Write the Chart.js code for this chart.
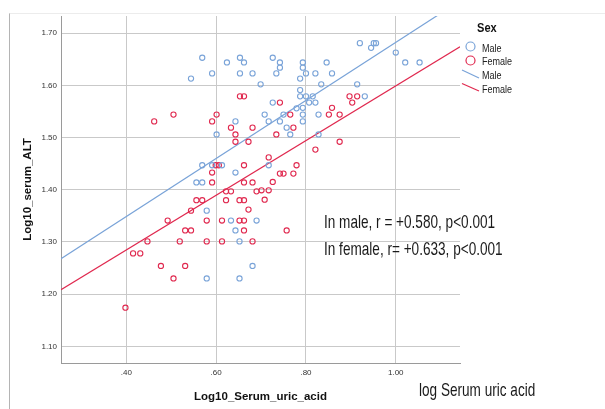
<!DOCTYPE html>
<html lang="en">
<head>
  <meta charset="UTF-8">
  <title>Log10 serum ALT vs Log10 serum uric acid</title>
  <script src="https://cdn.jsdelivr.net/npm/chart.js"></script>
  <style>
    body { margin: 0; background: #fff; }
    #wrap { position: relative; width: 605px; height: 409px; }
    #frame { position: absolute; left: 9px; top: 13px; width: 596px; height: 396px;
             border-left: 1px solid #b4b4b4; border-top: 1px solid #ececec; }
    canvas { position: absolute; left: 0; top: 0; }
    .note { position: absolute; font-family: "Liberation Sans", Arial, sans-serif;
            font-size: 19px; color: #1a1a1a; white-space: nowrap; line-height: 1;
            transform: scaleX(0.715); transform-origin: left center; }
  </style>
</head>
<body>
  <div id="wrap">
    <div id="frame"></div>
    <canvas id="chart" width="605" height="409"></canvas>
    <div class="note" style="left:324px; top:212px;">In male, r = +0.580, p&lt;0.001</div>
    <div class="note" style="left:324px; top:239px;">In female, r= +0.633, p&lt;0.001</div>
    <div class="note" style="left:419px; top:380px;">log Serum uric acid</div>
  </div>

  <script>
    // values
    const maleX = [0.569, 0.624, 0.653, 0.662, 0.544, 0.591, 0.653, 0.681, 0.699, 0.643,
                   0.601, 0.569, 0.591, 0.613, 0.643, 0.556, 0.569, 0.579, 0.633, 0.690,
                   0.643, 0.652, 0.681, 0.579, 0.652, 0.726, 0.742, 0.742, 0.734, 0.793,
                   0.793, 0.800, 0.787, 0.846, 0.821, 0.858, 0.834, 0.920, 0.945, 0.951,
                   0.956, 1.000, 1.021, 1.053, 0.914, 0.931, 0.787, 0.787, 0.800, 0.815,
                   0.807, 0.821, 0.793, 0.779, 0.726, 0.708, 0.750, 0.793, 0.828, 0.717,
                   0.742, 0.793, 0.757, 0.765, 0.828, 0.717];
    const maleY = [1.653, 1.644, 1.653, 1.644, 1.613, 1.623, 1.623, 1.623, 1.602, 1.531,
                   1.506, 1.447, 1.447, 1.447, 1.433, 1.414, 1.414, 1.360, 1.341, 1.341,
                   1.322, 1.301, 1.254, 1.230, 1.230, 1.653, 1.644, 1.634, 1.623, 1.644,
                   1.634, 1.623, 1.613, 1.644, 1.623, 1.623, 1.602, 1.681, 1.672, 1.681,
                   1.681, 1.663, 1.644, 1.644, 1.602, 1.579, 1.591, 1.579, 1.579, 1.579,
                   1.567, 1.567, 1.557, 1.556, 1.567, 1.544, 1.544, 1.544, 1.544, 1.531,
                   1.531, 1.531, 1.519, 1.506, 1.506, 1.447];

    const femaleX = [0.653, 0.662, 0.505, 0.462, 0.601, 0.591, 0.633, 0.681, 0.643, 0.643,
                     0.672, 0.599, 0.606, 0.662, 0.591, 0.591, 0.662, 0.681, 0.622, 0.633,
                     0.690, 0.556, 0.569, 0.622, 0.652, 0.662, 0.544, 0.672, 0.492, 0.579,
                     0.613, 0.652, 0.662, 0.531, 0.544, 0.662, 0.447, 0.519, 0.579, 0.613,
                     0.681, 0.415, 0.431, 0.477, 0.531, 0.505, 0.398, 0.742, 0.765, 0.772,
                     0.734, 0.897, 0.914, 0.903, 0.858, 0.851, 0.875, 0.875, 0.821, 0.717,
                     0.779, 0.742, 0.750, 0.772, 0.726, 0.701, 0.717, 0.708, 0.757];
    const femaleY = [1.579, 1.579, 1.544, 1.531, 1.544, 1.531, 1.519, 1.519, 1.506, 1.492,
                     1.492, 1.447, 1.447, 1.447, 1.433, 1.414, 1.414, 1.414, 1.397, 1.397,
                     1.397, 1.380, 1.380, 1.380, 1.380, 1.380, 1.360, 1.362, 1.341, 1.341,
                     1.341, 1.341, 1.341, 1.322, 1.322, 1.322, 1.301, 1.301, 1.301, 1.301,
                     1.301, 1.278, 1.278, 1.254, 1.254, 1.230, 1.174, 1.567, 1.544, 1.519,
                     1.506, 1.579, 1.579, 1.567, 1.557, 1.544, 1.544, 1.492, 1.477, 1.462,
                     1.447, 1.431, 1.431, 1.431, 1.415, 1.399, 1.399, 1.381, 1.322];

    // fit lines, ends at the axis limits
    const fitX = [0.2545, 1.143];
    const maleFitY = [1.268, 1.762];
    const femaleFitY = [1.2085, 1.674];

    const xTicks = [0.4, 0.6, 0.8, 1.0];
    const xTickLabels = ['.40', '.60', '.80', '1.00'];
    const yTicks = [1.1, 1.2, 1.3, 1.4, 1.5, 1.6, 1.7];

    const blue = '#79a3d8';
    const red = '#e0294f';
    const fontFam = '"Liberation Sans", Arial, sans-serif';

    const pts = (xs, ys) => xs.map((x, i) => ({ x: x, y: ys[i] }));

    // squeezed text, like the narrow SPSS font
    function narrowText(ctx, text, x, y) {
      ctx.save();
      ctx.translate(x, y);
      ctx.scale(0.82, 1);
      ctx.fillText(text, 0, 0);
      ctx.restore();
    }

    const legendPlugin = {
      id: 'sexLegend',
      afterDraw(chart) {
        const ctx = chart.ctx;
        ctx.save();
        ctx.textBaseline = 'middle';
        ctx.fillStyle = '#111';
        ctx.font = 'bold 13.5px ' + fontFam;
        narrowText(ctx, 'Sex', 477, 28);
        ctx.font = '11px ' + fontFam;
        ctx.fillStyle = '#222';
        ctx.lineWidth = 1.2;
        ctx.strokeStyle = blue;
        ctx.beginPath(); ctx.arc(470.5, 46.5, 4.5, 0, Math.PI * 2); ctx.stroke();
        narrowText(ctx, 'Male', 482, 48.5);
        ctx.strokeStyle = red;
        ctx.beginPath(); ctx.arc(470.5, 60.5, 4.5, 0, Math.PI * 2); ctx.stroke();
        narrowText(ctx, 'Female', 482, 62);
        ctx.strokeStyle = blue;
        ctx.beginPath(); ctx.moveTo(462, 70); ctx.lineTo(479, 78); ctx.stroke();
        narrowText(ctx, 'Male', 482, 75.5);
        ctx.strokeStyle = red;
        ctx.beginPath(); ctx.moveTo(462, 83.5); ctx.lineTo(479, 91); ctx.stroke();
        narrowText(ctx, 'Female', 482, 89.5);
        ctx.restore();
      }
    };

    Chart.defaults.font.family = fontFam;
    Chart.defaults.color = '#333';

    new Chart(document.getElementById('chart'), {
      type: 'scatter',
      data: {
        datasets: [
          {
            label: 'Male',
            data: pts(maleX, maleY),
            pointStyle: 'circle',
            pointRadius: 2.6,
            borderWidth: 1.1,
            borderColor: blue,
            backgroundColor: 'rgba(0,0,0,0)'
          },
          {
            label: 'Female',
            data: pts(femaleX, femaleY),
            pointStyle: 'circle',
            pointRadius: 2.6,
            borderWidth: 1.1,
            borderColor: red,
            backgroundColor: 'rgba(0,0,0,0)'
          },
          {
            type: 'line',
            label: 'Male fit',
            data: pts(fitX, maleFitY),
            borderColor: blue,
            borderWidth: 1.2,
            pointRadius: 0
          },
          {
            type: 'line',
            label: 'Female fit',
            data: pts(fitX, femaleFitY),
            borderColor: red,
            borderWidth: 1.2,
            pointRadius: 0
          }
        ]
      },
      options: {
        responsive: false,
        animation: false,
        layout: { padding: { left: 0, top: 16, right: 145, bottom: 0 } },
        plugins: {
          legend: { display: false },
          tooltip: { enabled: false }
        },
        scales: {
          x: {
            type: 'linear',
            min: fitX[0],
            max: fitX[1],
            afterBuildTicks: (s) => { s.ticks = xTicks.map(v => ({ value: v })); },
            afterFit: (s) => { s.height = 46; },
            ticks: {
              padding: 5,
              font: { size: 8 },
              callback: (v) => xTickLabels[xTicks.indexOf(v)]
            },
            grid: { color: '#c9c9c9', drawTicks: false },
            border: { color: '#9a9a9a' },
            title: {
              display: true,
              text: 'Log10_Serum_uric_acid',
              color: '#111',
              font: { size: 11.5, weight: 'bold' },
              padding: { top: 0, bottom: 5 }
            }
          },
          y: {
            min: 1.068,
            max: 1.733,
            afterBuildTicks: (s) => { s.ticks = yTicks.map(v => ({ value: v })); },
            afterFit: (s) => { s.width = 61; },
            ticks: {
              padding: 4,
              font: { size: 8 },
              callback: (v) => v.toFixed(2)
            },
            grid: { color: '#c9c9c9', drawTicks: false },
            border: { color: '#9a9a9a' },
            title: {
              display: true,
              text: 'Log10_serum_ALT',
              color: '#111',
              font: { size: 11.5, weight: 'bold' },
              padding: { top: 21, bottom: 0 }
            }
          }
        }
      },
      plugins: [legendPlugin]
    });
  </script>
</body>
</html>
